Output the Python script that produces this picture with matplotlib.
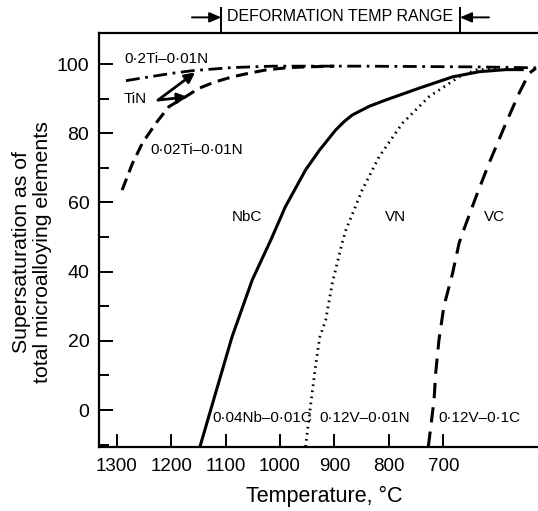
import matplotlib
matplotlib.use("Agg")
import matplotlib.pyplot as plt
from matplotlib.ticker import MultipleLocator

plt.rcParams['font.family'] = ['Liberation Sans', 'DejaVu Sans']

# ---- data ----
temp_ti02 = [1283, 1260, 1240, 1200, 1161, 1120, 1088, 1050, 1014, 950, 850, 750, 650, 560, 528]
sat_ti02 = [95.2, 95.8, 96.3, 97.3, 98.1, 98.6, 99.0, 99.2, 99.4, 99.4, 99.4, 99.3, 99.2, 99.0, 98.9]

temp_ti002 = [1290, 1271, 1253, 1228, 1204, 1173, 1149, 1120, 1088, 1056, 1026, 990, 953, 900]
sat_ti002 = [63.6, 71.3, 77.1, 82.9, 87.7, 90.6, 93.0, 94.8, 96.3, 97.4, 98.3, 98.9, 99.2, 99.4]

temp_nbc = [1147, 1122, 1088, 1051, 1017, 990, 953, 928, 898, 882, 867, 836, 806, 745, 683, 634, 585, 555]
sat_nbc = [-10.6, 2.9, 21.2, 37.6, 49.1, 58.8, 69.4, 75.0, 80.9, 83.4, 85.3, 87.8, 89.6, 93.0, 96.3, 97.8, 98.4, 98.4]

temp_vn = [953, 948, 941, 934, 927, 916, 904, 886, 879, 849, 818, 775, 726, 671, 640, 600]
sat_vn = [-10.6, -4.0, 4.8, 13.5, 21.0, 26.0, 36.6, 48.2, 52.0, 63.6, 73.2, 82.9, 90.6, 96.3, 98.3, 98.8]

temp_vc = [727.5, 726, 717, 714, 708, 699, 683, 671, 665, 640, 616, 585, 561, 542.5, 530]
sat_vc = [-10.6, -8.7, 2.9, 10.6, 20.2, 29.9, 39.5, 48.2, 51.0, 61.6, 71.3, 82.9, 91.5, 97.3, 98.8]

x_ticks = [1300, 1200, 1100, 1000, 900, 800, 700]
y_ticks = [0, 20, 40, 60, 80, 100]
deform_range = [1107.8, 669.5]

# ---- figure ----
fig = plt.figure(figsize=(5.38, 5.11), dpi=100)
W, H = 538, 511
ax = fig.add_axes([99 / W, 1 - 446.7 / H, 439 / W, (446.7 - 32.6) / H])
ax.set_xlim(1332.5, 526)
ax.set_ylim(-10.6, 109.1)

ax.plot(temp_ti02, sat_ti02, color='black', lw=2.0, linestyle=(0, (5, 2, 1, 2)))
ax.plot(temp_ti002, sat_ti002, color='black', lw=2.2, linestyle=(0, (4, 2.2)))
ax.plot(temp_nbc, sat_nbc, color='black', lw=2.2, linestyle='-')
ax.plot(temp_vn, sat_vn, color='black', lw=2.0, linestyle=(0, (0.6, 1.6)))
ax.plot(temp_vc, sat_vc, color='black', lw=2.2, linestyle=(0, (5, 3)))

# spines and ticks
ax.spines['right'].set_visible(False)
for s in ['left', 'bottom', 'top']:
    ax.spines[s].set_linewidth(1.6)
ax.set_xticks(x_ticks)
ax.set_xticklabels([str(t) for t in x_ticks])
ax.set_yticks(y_ticks)
ax.yaxis.set_minor_locator(MultipleLocator(10))
ax.tick_params(axis='x', direction='in', length=9.5, width=1.4, pad=8, labelsize=13.5, top=False)
ax.tick_params(axis='y', direction='in', length=10, width=1.4, pad=7, labelsize=14, right=False)
ax.tick_params(axis='y', which='minor', direction='in', length=7, width=1.4, right=False)
ax.tick_params(axis='x', which='minor', bottom=False, top=False)

ax.set_xlabel('Temperature, °C', fontsize=15.5)
ax.xaxis.set_label_coords((324 - 99) / 439, (446.7 - 486) / 414.1)
ax.set_ylabel('Supersaturation as of\ntotal microalloying elements', fontsize=15.3, linespacing=1.1)
ax.yaxis.set_label_coords((52 - 99) / 439, (446.7 - 251.7) / 414.1)

# curve labels
lab = dict(fontsize=11, color='black')
ax.text(1286.6, 101.4, '0·2Ti–0·01N', ha='left', va='center', **lab)
ax.text(1286.6, 89.8, 'TiN', ha='left', va='center', **lab)
ax.text(1237.5, 75.1, '0·02Ti–0·01N', ha='left', va='center', **lab)
ax.text(1060, 55.9, 'NbC', ha='center', va='center', **lab)
ax.text(788, 55.9, 'VN', ha='center', va='center', **lab)
ax.text(605, 55.9, 'VC', ha='center', va='center', **lab)
ax.text(1124.4, -2.3, '0·04Nb–0·01C', ha='left', va='center', **lab)
ax.text(928.3, -2.3, '0·12V–0·01N', ha='left', va='center', **lab)
ax.text(709.2, -2.3, '0·12V–0·1C', ha='left', va='center', **lab)

# TiN arrows
arr = dict(arrowstyle='-|>,head_length=0.6,head_width=0.3', lw=2.0, color='black', shrinkA=0, shrinkB=0)
ax.annotate('', xy=(1156, 97.6), xytext=(1224, 89.6), arrowprops=arr)
ax.annotate('', xy=(1170, 90.5), xytext=(1224, 89.6), arrowprops=arr)

# deformation temperature range
for xv in deform_range:
    ax.plot([xv, xv], [109.1, 116.3], color='black', lw=1.4, clip_on=False)
arr2 = dict(arrowstyle='-|>,head_length=0.7,head_width=0.3', lw=1.4, color='black', shrinkA=0, shrinkB=0)
ax.annotate('', xy=(deform_range[0], 113.5), xytext=(1161.7, 113.5), arrowprops=arr2, annotation_clip=False)
ax.annotate('', xy=(deform_range[1], 113.5), xytext=(616, 113.5), arrowprops=arr2, annotation_clip=False)
ax.text((deform_range[0] + deform_range[1]) / 2 + 0.5, 113.7, 'DEFORMATION TEMP RANGE',
        ha='center', va='center', fontsize=11.5, clip_on=False)

fig.savefig('out.png', dpi=100)
